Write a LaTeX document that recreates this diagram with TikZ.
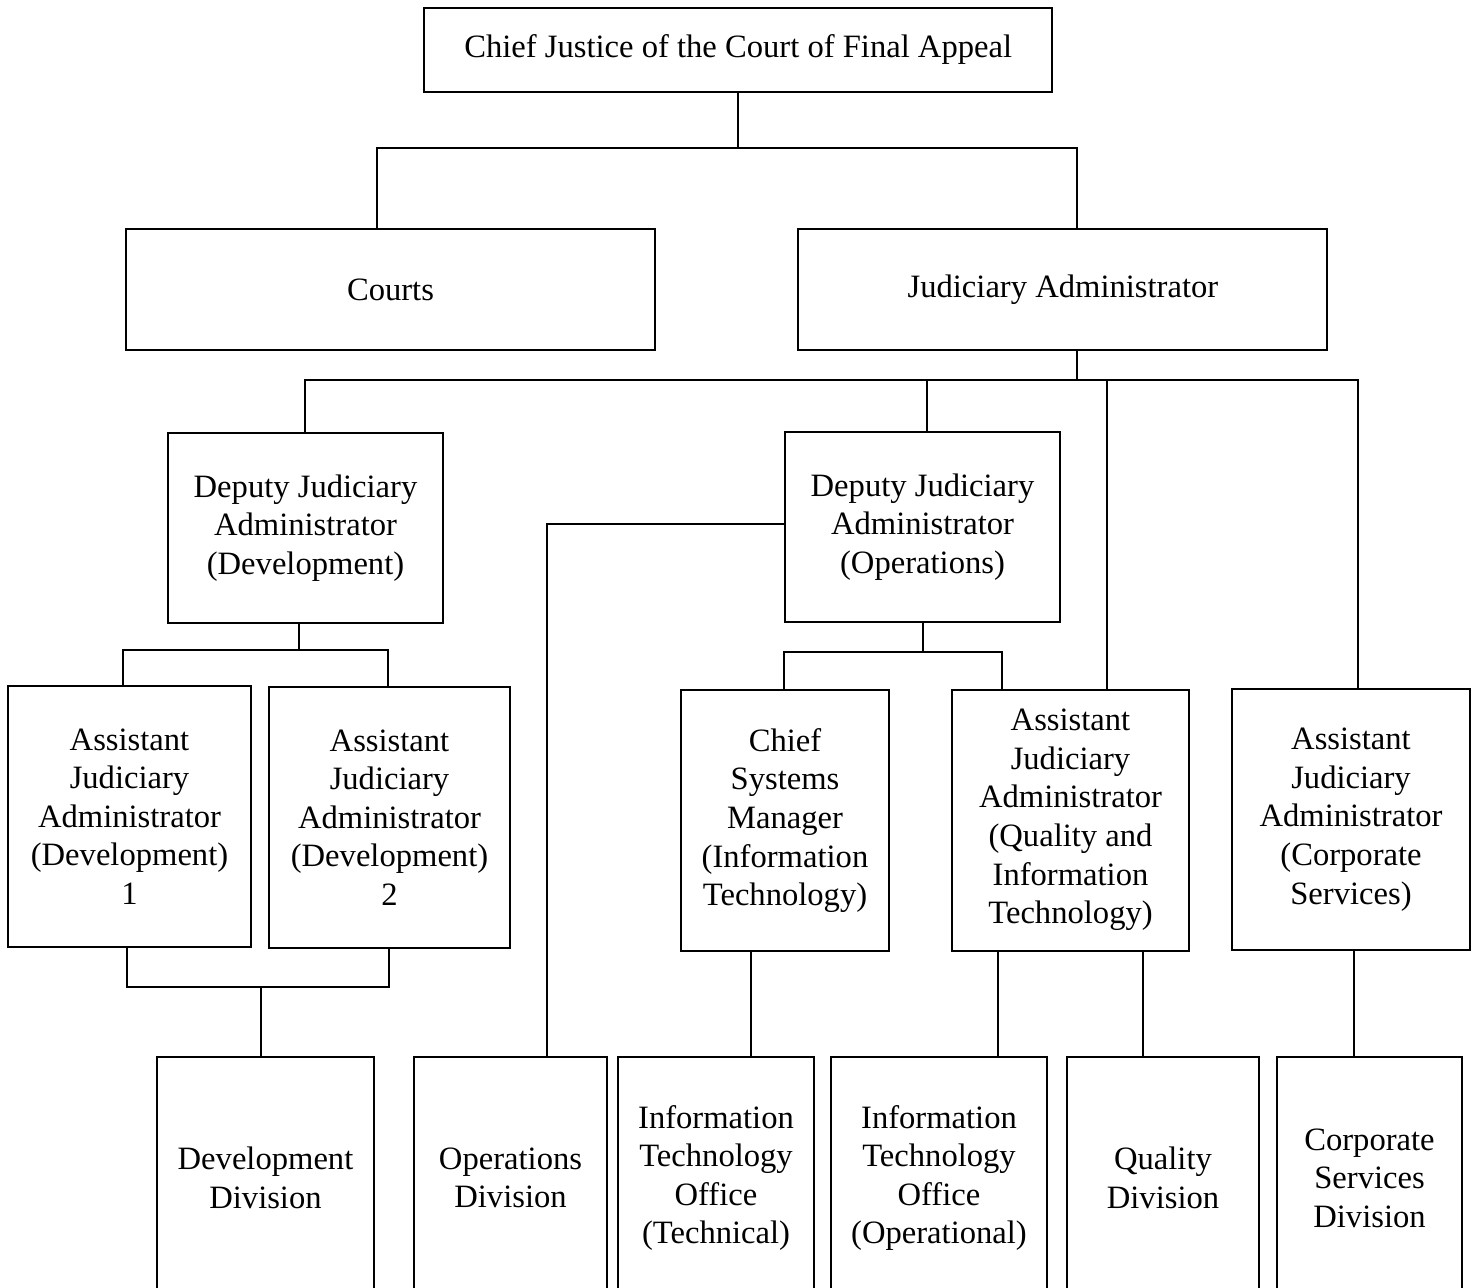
\documentclass[tikz,border=0pt]{standalone}
\usepackage{fontspec}
\setmainfont{Liberation Serif}
\usepackage{tikz}

\newcommand{\orgfont}{\fontsize{16.3pt}{19.3pt}\selectfont}

\begin{document}
\begin{tikzpicture}[
    x=5pt, y=-5pt,
    box/.style={draw=black, line width=1pt, inner sep=0pt, align=center, font=\orgfont},
    wire/.style={draw=black, line width=1pt},
    topbox/.style={box, minimum width=264.5pt, minimum height=60.5pt},
    depbox/.style={box, minimum width=137.5pt, minimum height=95pt},
    asstbox/.style={box, minimum height=130.5pt},
    divbox/.style={box, minimum height=121pt}
]
\useasboundingbox (0,0) rectangle (147.7,128.8);
\clip (0,0) rectangle (147.7,128.8);

% --- Top levels ---
\node[box, minimum width=313.75pt, minimum height=42pt] (cj) at (73.82, 5.0) {Chief Justice of the Court of Final Appeal};
\node[topbox] (courts) at (39.05, 29.0) {Courts};
\node[topbox] (ja) at (106.29, 29.0) {Judiciary Administrator};

% --- Deputies ---
\node[depbox] (djadev) at (30.55, 52.8) {Deputy Judiciary\\Administrator\\(Development)};
\node[depbox] (djaops) at (92.25, 52.7) {Deputy Judiciary\\Administrator\\(Operations)};

% --- Assistants ---
\node[asstbox, minimum width=121.5pt] (aja1) at (12.95, 81.65) {Assistant\\Judiciary\\Administrator\\(Development)\\1};
\node[asstbox, minimum width=120.5pt] (aja2) at (38.95, 81.75) {Assistant\\Judiciary\\Administrator\\(Development)\\2};
\node[asstbox, minimum width=104pt] (csm) at (78.5, 82.05) {Chief\\Systems\\Manager\\(Information\\Technology)};
\node[asstbox, minimum width=118.5pt] (ajaqit) at (107.05, 82.0) {Assistant\\Judiciary\\Administrator\\(Quality and\\Information\\Technology)};
\node[asstbox, minimum width=119pt] (ajacorp) at (135.1, 81.95) {Assistant\\Judiciary\\Administrator\\(Corporate\\Services)};

% --- Divisions (cut by bottom edge) ---
\node[divbox, minimum width=108.5pt] (devdiv) at (26.55, 117.8) {Development\\Division};
\node[divbox, minimum width=96.5pt] (opsdiv) at (51.05, 117.8) {Operations\\Division};
\node[divbox, minimum width=98pt] (ittech) at (71.6, 117.8) {Information\\Technology\\Office\\(Technical)};
\node[divbox, minimum width=108pt] (itop) at (93.9, 117.8) {Information\\Technology\\Office\\(Operational)};
\node[divbox, minimum width=96pt] (quality) at (116.3, 117.8) {Quality\\Division};
\node[divbox, minimum width=92.5pt] (corpdiv) at (136.95, 117.8) {Corporate\\Services\\Division};

% Junction points
\coordinate (b1l) at (37.7, 14.8);
\coordinate (b1r) at (107.7, 14.8);
\coordinate (b2l) at (30.5, 38.0);
\coordinate (b2a) at (92.7, 38.0);
\coordinate (b2b) at (110.7, 38.0);
\coordinate (b2r) at (135.8, 38.0);
\coordinate (b3) at (54.7, 52.4);
\coordinate (b4l) at (12.3, 65.0);
\coordinate (b4m) at (29.9, 65.0);
\coordinate (b4r) at (38.8, 65.0);
\coordinate (b5l) at (12.7, 98.7);
\coordinate (b5m) at (26.1, 98.7);
\coordinate (b5r) at (38.9, 98.7);
\coordinate (b6l) at (78.4, 65.2);
\coordinate (b6r) at (100.2, 65.2);
\coordinate (s1) at (75.1, 100.0);
\coordinate (s2) at (99.8, 100.0);
\coordinate (s3) at (114.3, 100.0);
\coordinate (s4) at (135.4, 100.0);

% --- Connectors ---
\draw[wire] (cj.south) -- (cj.south |- b1l);
\draw[wire] (courts.north -| b1l) -- (b1l) -- (b1r) -- (ja.north -| b1r);

\draw[wire] (ja.south -| b1r) -- (b1r |- b2l);
\draw[wire] (djadev.north -| b2l) -- (b2l) -- (b2r) -- (ajacorp.north -| b2r);
\draw[wire] (b2a) -- (djaops.north -| b2a);
\draw[wire] (b2b) -- (ajaqit.north -| b2b);

\draw[wire] (djaops.west |- b3) -- (b3) -- (opsdiv.north -| b3);

\draw[wire] (djadev.south -| b4m) -- (b4m);
\draw[wire] (aja1.north -| b4l) -- (b4l) -- (b4r) -- (aja2.north -| b4r);

\draw[wire] (aja1.south -| b5l) -- (b5l) -- (b5r) -- (aja2.south -| b5r);
\draw[wire] (b5m) -- (devdiv.north -| b5m);

\draw[wire] (djaops.south) -- (djaops.south |- b6l);
\draw[wire] (csm.north -| b6l) -- (b6l) -- (b6r) -- (ajaqit.north -| b6r);

\draw[wire] (csm.south -| s1) -- (ittech.north -| s1);
\draw[wire] (ajaqit.south -| s2) -- (itop.north -| s2);
\draw[wire] (ajaqit.south -| s3) -- (quality.north -| s3);
\draw[wire] (ajacorp.south -| s4) -- (corpdiv.north -| s4);

\end{tikzpicture}
\end{document}
